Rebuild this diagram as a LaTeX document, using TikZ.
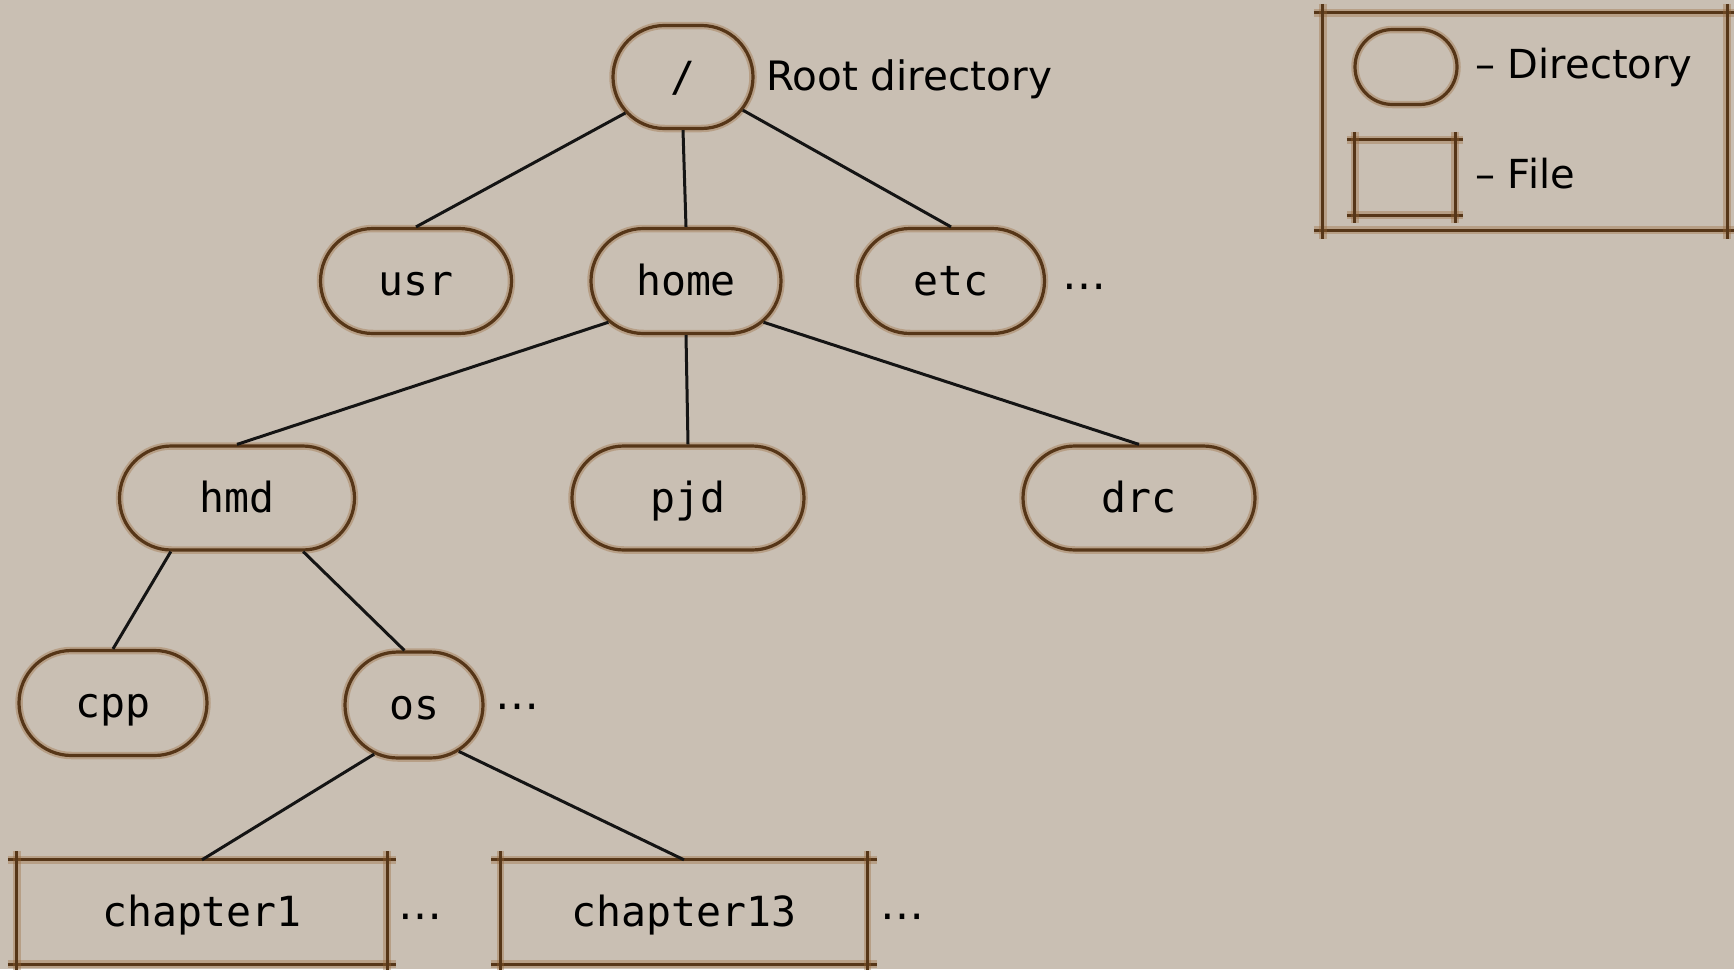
\documentclass[tikz,border=0pt]{standalone}
\usepackage{fontspec}
\setmainfont{DejaVu Sans}
\newfontfamily\monofont{DejaVu Sans Mono}
\newfontfamily\symfont{DejaVu Sans}
\usetikzlibrary{shapes.misc}

\definecolor{paper}{RGB}{201,191,179}
\definecolor{ink}{RGB}{86,54,24}
\definecolor{halo}{RGB}{150,100,52}

\tikzset{
  outline/.style={draw=ink, line width=3.2pt,
    preaction={draw=halo, line width=7.5pt, draw opacity=0.35}},
  dir/.style={rounded rectangle, outline, inner sep=0pt,
    minimum height=105pt, text height=38pt, text depth=10pt,
    font=\monofont\fontsize{41.5}{50}\selectfont, text=black},
  filebox/.style={rectangle, inner sep=0pt,
    minimum height=104pt, text height=38pt, text depth=10pt,
    font=\monofont\fontsize{41.5}{50}\selectfont, text=black},
  sketch/.style={draw=ink, line width=3.2pt,
    preaction={draw=halo, line width=7.5pt, draw opacity=0.35}},
  link/.style={draw=black!92, line width=3pt},
  label/.style={anchor=base west, inner sep=0pt, text=black,
    font=\fontsize{40.5}{46}\selectfont},
  dots/.style={inner sep=0pt, text=black, yshift=-10pt,
    font=\symfont\fontsize{44}{48}\selectfont},
}

% frame whose sides run a little past the corners
\newcommand\sketchrect[2]{%
  \draw[sketch] ([xshift=-#2]#1.north west) -- ([xshift=#2]#1.north east);
  \draw[sketch] ([xshift=-#2]#1.south west) -- ([xshift=#2]#1.south east);
  \draw[sketch] ([yshift=#2]#1.north west) -- ([yshift=-#2]#1.south west);
  \draw[sketch] ([yshift=#2]#1.north east) -- ([yshift=-#2]#1.south east);
}

\begin{document}
\begin{tikzpicture}[x=1pt, y=-1pt]
  \useasboundingbox (0,0) rectangle (1734,969);
  \fill[paper] (0,0) rectangle (1734,969);

  % directory tree
  \node[dir, minimum width=140pt, minimum height=103pt] (root) at (683,77) {/};
  \node[label] (rootlbl) at (766,90) {Root directory};

  \node[dir, minimum width=191pt] (usr)  at (416,281) {usr};
  \node[dir, minimum width=190pt] (home) at (686,281) {home};
  \node[dir, minimum width=187pt] (etc)  at (951,281) {etc};
  \node[dots] (etcdots) at (1084,282) {⋯};

  \node[dir, minimum width=235pt, minimum height=104pt] (hmd) at (237,498) {hmd};
  \node[dir, minimum width=232pt, minimum height=104pt] (pjd) at (688,498) {pjd};
  \node[dir, minimum width=232pt, minimum height=104pt] (drc) at (1139,498) {drc};

  \node[dir, minimum width=188pt] (cpp) at (113,703) {cpp};
  \node[dir, minimum width=138pt, minimum height=106pt] (os) at (414,705) {os};
  \node[dots] (osdots) at (517,702) {⋯};

  \node[filebox, minimum width=370pt] (ch1)  at (202,912) {chapter1};
  \node[dots] (ch1dots) at (420,912) {⋯};
  \node[filebox, minimum width=367pt] (ch13) at (684,912) {chapter13};
  \node[dots] (ch13dots) at (902,912) {⋯};
  \sketchrect{ch1}{9pt}
  \sketchrect{ch13}{9pt}

  % links
  \draw[link] (root.212) -- (usr.north);
  \draw[link] (root.south) -- (home.north);
  \draw[link] (root.331) -- (etc.north);
  \draw[link] (home.208) -- (hmd.north);
  \draw[link] (home.south) -- (pjd.north);
  \draw[link] (home.332) -- (drc.north);
  \draw[link] (hmd.219) -- (cpp.north);
  \draw[link] (hmd.321) -- (os.100);
  \draw[link] (os.231) -- (ch1.north);
  \draw[link] (os.314) -- (ch13.north);

  % legend
  \node[minimum width=404pt, minimum height=217pt, inner sep=0pt] (legend) at (1525,121.5) {};
  \sketchrect{legend}{9pt}
  \node[rounded rectangle, outline, minimum width=102pt, minimum height=75pt, inner sep=0pt] (legdir) at (1406,67) {};
  \node[rectangle, inner sep=0pt, minimum width=100pt, minimum height=75pt] (legfile) at (1405,177.5) {};
  \sketchrect{legfile}{8pt}
  \node[label, font=\fontsize{40}{46}\selectfont] (legdirlbl) at (1475,78) {– Directory};
  \node[label, font=\fontsize{40}{46}\selectfont] (legfilelbl) at (1475,188) {– File};
\end{tikzpicture}
\end{document}
